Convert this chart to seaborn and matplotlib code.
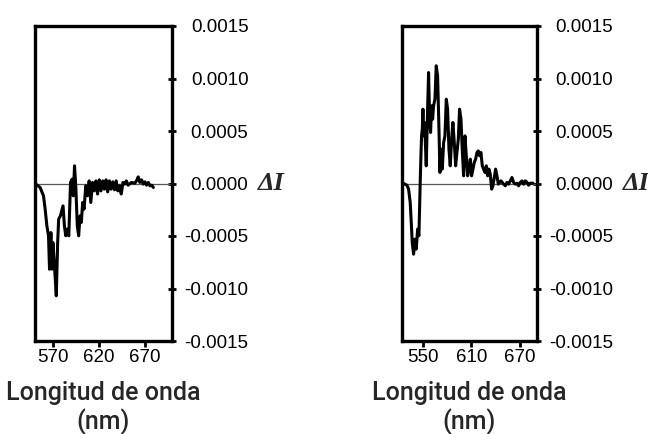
import numpy as np
import pandas as pd
import matplotlib
matplotlib.use("Agg")
import matplotlib.pyplot as plt
import seaborn as sns

# ---- data ----
wl_a = [550.0, 555.6, 559.3, 561.1, 563.0, 564.8, 565.9, 567.4, 568.5, 569.6, 571.1, 573.3,
        574.8, 575.9, 577.8, 580.7, 582.2, 583.7, 585.2, 587.0, 588.9, 590.7, 591.9, 593.3,
        594.8, 596.3, 597.8, 599.3, 600.7, 602.2, 603.7, 605.6, 607.4, 609.3, 611.1, 613.0,
        614.8, 616.7, 618.5, 620.4, 622.2, 624.1, 625.9, 627.8, 629.6, 631.5, 633.3, 635.2,
        637.0, 638.9, 640.7, 642.6, 644.4, 646.3, 648.1, 650.0, 651.9, 655.6, 659.3, 661.1,
        663.0, 664.8, 666.7, 668.5, 670.4, 672.2, 674.1, 675.9, 677.8, 679.6]
di_a = [0.0, -0.000038, -0.000117, -0.000244, -0.000403, -0.000498, -0.000816, -0.000467,
        -0.000816, -0.000562, -0.000752, -0.00107, -0.000562, -0.00034, -0.000308, -0.000213,
        -0.000403, -0.000498, -0.000435, -0.000498, 0.00001, 0.000041, -0.000117, 0.000168,
        -0.000054, -0.000403, -0.000498, -0.000308, -0.000371, -0.000181, -0.000244, -0.000022,
        -0.000117, 0.000025, -0.000181, 0.00001, -0.00007, 0.000025, -0.0001, 0.000035,
        -0.00007, 0.000025, -0.000054, 0.000035, -0.00008, 0.000025, -0.000054, 0.000016,
        -0.00006, 0.000025, -0.00007, -0.000022, -0.0001, 0.00001, -0.000006, 0.000025,
        -0.000016, 0.00001, 0.000003, 0.000025, 0.000063, 0.00001, 0.000035, -0.000006,
        0.000016, -0.000016, 0.00001, -0.000022, -0.000016, -0.000038]

wl_b = [526.0, 530.1, 532.2, 534.2, 535.5, 536.7, 538.4, 540.0, 541.7, 543.4, 545.0, 545.8,
        546.7, 547.5, 548.3, 549.2, 550.0, 550.8, 552.1, 553.3, 554.1, 555.8, 557.0, 558.3,
        559.5, 560.7, 562.0, 563.2, 564.9, 566.5, 568.2, 569.9, 571.1, 572.3, 574.0, 575.7,
        577.3, 579.0, 580.6, 582.3, 583.9, 585.6, 587.2, 588.9, 590.6, 592.2, 593.9, 595.5,
        597.2, 598.8, 600.5, 602.2, 603.8, 605.5, 607.1, 608.8, 610.4, 612.1, 613.7, 615.4,
        617.1, 618.7, 620.4, 622.0, 623.7, 625.3, 627.0, 628.7, 630.3, 632.0, 633.6, 635.3,
        636.9, 638.6, 640.2, 641.9, 643.6, 645.2, 646.9, 648.5, 650.2, 652.3, 654.3, 656.4,
        658.5, 660.5, 662.6, 664.7, 666.8, 668.8, 670.9, 673.0, 675.0, 677.1, 679.2, 681.2,
        683.3, 686.6]
di_b = [0.0, -0.000016, -0.000054, -0.000181, -0.000371, -0.000562, -0.000673, -0.00053,
        -0.000625, -0.000435, -0.000498, -0.000244, 0.000041, 0.000264, 0.000454, 0.000518,
        0.000708, 0.000454, 0.000581, 0.000327, 0.000168, 0.000708, 0.001057, 0.000613,
        0.000486, 0.00074, 0.000613, 0.00074, 0.000803, 0.001121, 0.001025, 0.000518,
        0.000105, 0.000327, 0.000137, 0.00039, 0.000454, 0.000803, 0.000708, 0.000327,
        0.000168, 0.000422, 0.000581, 0.00039, 0.000168, 0.000295, 0.000422, 0.000708,
        0.000613, 0.000327, 0.000073, 0.000454, 0.000264, 0.000073, 0.000137, 0.000232,
        0.000073, 0.000137, 0.0002, 0.000232, 0.000295, 0.000311, 0.000264, 0.000295,
        0.000168, 0.000137, 0.000105, 0.000168, 0.000073, 0.000137, 0.000089, -0.000054,
        -0.000022, 0.000057, 0.000137, 0.000073, -0.000006, 0.00001, 0.000025, 0.00001,
        -0.000006, -0.000022, 0.00001, -0.000006, 0.000025, 0.000057, 0.00001, -0.000006,
        0.000003, -0.000022, 0.00001, 0.000025, -0.000006, 0.000025, 0.00001, -0.000016,
        0.000003, 0.000003]

yticks = [0.0015, 0.0010, 0.0005, 0.0, -0.0005, -0.0010, -0.0015]
ytick_labels = ["0.0015", "0.0010", "0.0005", "0.0000", "-0.0005", "-0.0010", "-0.0015"]
xticks_a = [570, 620, 670]
xticks_b = [550, 610, 670]
xlim_a = (550, 700)
xlim_b = (524, 691)
xlabel = "Longitud de onda\n(nm)"
ylabel = "ΔI"

sns.set_style("white")
plt.rcParams['font.family'] = ['Liberation Sans', 'DejaVu Sans']

W, H = 648, 434
fig = plt.figure(figsize=(W / 100, H / 100), dpi=100)
ax1 = fig.add_axes([35 / W, 1 - 341 / H, 137 / W, 315 / H])
ax2 = fig.add_axes([402 / W, 1 - 341 / H, 134.5 / W, 315 / H])

panels = [(ax1, wl_a, di_a, xticks_a, xlim_a, 172),
          (ax2, wl_b, di_b, xticks_b, xlim_b, 536.5)]

for ax, wl, di, xt, xl, right_px in panels:
    df = pd.DataFrame({"wl": wl, "di": di})
    ax.axhline(0, color="#555555", lw=0.9, zorder=1)
    sns.lineplot(data=df, x="wl", y="di", ax=ax, color="black", lw=2.2,
                 sort=False, estimator=None, zorder=3)
    ax.set_xlim(*xl)
    ax.set_ylim(-0.0015, 0.0015)
    ax.yaxis.tick_right()
    ax.set_yticks(yticks)
    ax.set_yticklabels(ytick_labels, ha="right")
    ax.set_xticks(xt)
    ax.set_xticklabels([str(v) for v in xt])
    ax.tick_params(axis="y", which="both", right=True, left=False, direction="inout",
                   length=6, width=2, pad=52, labelsize=13.5, colors="black")
    ax.tick_params(axis="x", which="both", bottom=True, direction="out",
                   length=4, width=2, pad=1.5, labelsize=13.5, colors="black")
    for s in ax.spines.values():
        s.set_linewidth(2.4)
        s.set_color("black")
    ax.set_xlabel(xlabel, fontfamily="Roboto", fontweight="medium", fontsize=18,
                  labelpad=11, linespacing=1.15)
    ax.set_ylabel("")
    fig.text((right_px + 86) / W, 1 - 184 / H, ylabel, fontsize=19, style="italic",
             fontweight="bold", family=["Liberation Serif", "DejaVu Serif"],
             va="center", ha="left")

fig.savefig("out.png", dpi=100)
